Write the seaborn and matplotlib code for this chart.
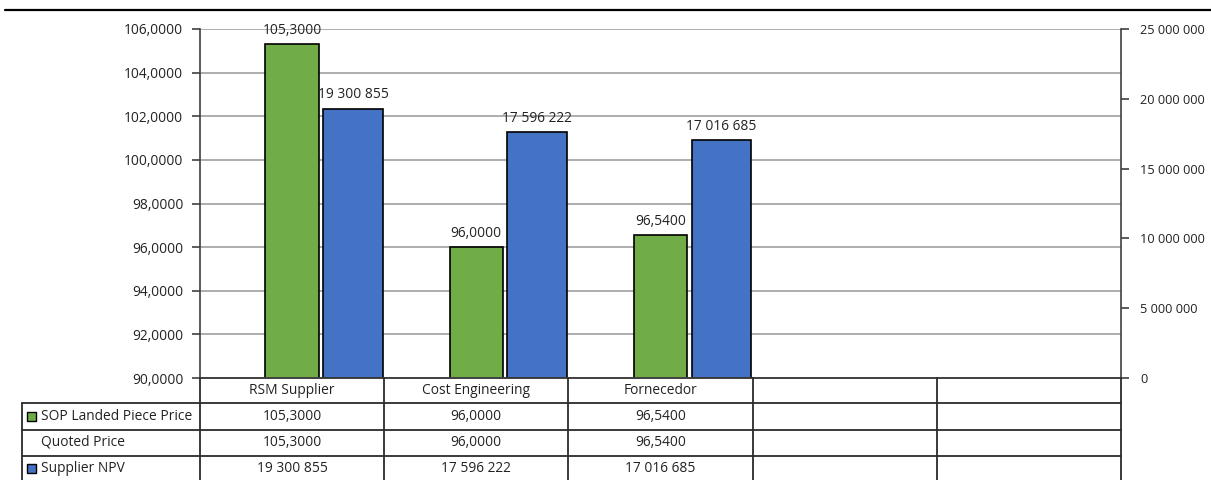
import numpy as np
import pandas as pd
import matplotlib.pyplot as plt
import seaborn as sns
from matplotlib.lines import Line2D
from matplotlib.patches import Rectangle
from matplotlib.ticker import FuncFormatter

# data
categories = ["RSM Supplier", "Cost Engineering", "Fornecedor", "", ""]
sop_price = [105.30, 96.00, 96.54]
quoted_price = [105.30, 96.00, 96.54]
supplier_npv = [19300855, 17596222, 17016685]
row_labels = ["SOP Landed Piece Price", "Quoted Price", "Supplier NPV"]

GREEN = "#70AD47"
BLUE = "#4472C4"
GRID = "#A0A0A0"
DARK = "#404040"
TXT = "#222222"

sns.set_style("white")
plt.rcParams["font.family"] = ["Open Sans", "DejaVu Sans"]
plt.rcParams["font.size"] = 9.9

W, H = 1211, 480
fig = plt.figure(figsize=(W / 100, H / 100), dpi=100)


def fx(x):
    return x / W


def fy(y):
    return 1 - y / H


# plot area in pixels
L, R, T, B = 200, 1121, 29, 378
ax = fig.add_axes([fx(L), fy(B), fx(R - L), (B - T) / H])
ax2 = ax.twinx()

n = len(categories)
pos = np.arange(len(sop_price))

df_sop = pd.DataFrame({"x": pos, "y": sop_price})
df_npv = pd.DataFrame({"x": pos + 0.331, "y": supplier_npv})

sns.barplot(data=df_sop, x="x", y="y", native_scale=True, orient="x",
            width=0.29, color=GREEN, edgecolor="black", linewidth=1.2,
            errorbar=None, saturation=1, ax=ax)
sns.barplot(data=df_npv, x="x", y="y", native_scale=True, orient="x",
            width=0.325, color=BLUE, edgecolor="black", linewidth=1.2,
            errorbar=None, saturation=1, ax=ax2)

ax.set_xlim(-0.5, n - 0.5)
ax.set_ylim(90, 106)
ax.set_yticks(np.arange(90, 106.1, 2))
ax2.set_ylim(0, 25000000)
ax2.set_yticks(np.arange(0, 25000001, 5000000))

ax.yaxis.set_major_formatter(FuncFormatter(lambda v, p: f"{v:.4f}".replace(".", ",")))
ax2.yaxis.set_major_formatter(FuncFormatter(lambda v, p: f"{int(v):,}".replace(",", " ")))

ax.set_xticks([])
ax.set_xlabel("")
ax.set_ylabel("")
ax2.set_ylabel("")
ax2.set_xlabel("")

ax.grid(axis="y", color=GRID, linewidth=1.2)
ax.set_axisbelow(True)
for a in (ax, ax2):
    a.spines["top"].set_visible(False)
    for s in ("left", "right", "bottom"):
        a.spines[s].set_color(DARK)
        a.spines[s].set_linewidth(1.2)
ax.spines["right"].set_visible(False)
ax2.spines["left"].set_visible(False)
ax.tick_params(axis="y", length=6, width=1.2, color=DARK, pad=6, labelcolor=TXT)
ax2.tick_params(axis="y", length=6, width=1.2, color=DARK, pad=8, labelcolor=TXT,
                labelsize=9.2)

# data labels
for x, v in zip(pos, sop_price):
    ax.annotate(f"{v:.4f}".replace(".", ","), (x, v), xytext=(0, 10),
                textcoords="offset points", ha="center", va="center", color=TXT)
for x, v in zip(pos + 0.331, supplier_npv):
    ax2.annotate(f"{v:,}".replace(",", " "), (x, v), xytext=(0, 10),
                 textcoords="offset points", ha="center", va="center", color=TXT)

# top rule
fig.add_artist(Line2D([fx(5), fx(W)], [fy(10), fy(10)], color="black", linewidth=1.6))

# data table below the plot
col_edges = [L + i * (R - L) / n for i in range(n + 1)]
row_y = [B, 403, 429.5, 455.5, H + 30]
lw = 1.3
for y in row_y[1:4]:
    fig.add_artist(Line2D([fx(22), fx(R)], [fy(y), fy(y)], color="#2b2b2b", linewidth=lw))
for x in col_edges:
    fig.add_artist(Line2D([fx(x), fx(x)], [fy(B), fy(H)], color="#2b2b2b", linewidth=lw))
fig.add_artist(Line2D([fx(22), fx(22)], [fy(403), fy(H)], color="#2b2b2b", linewidth=lw))

for i, c in enumerate(categories):
    cx = (col_edges[i] + col_edges[i + 1]) / 2
    fig.text(fx(cx), fy((row_y[0] + row_y[1]) / 2), c, ha="center", va="center", color=TXT)

rows = [
    [f"{v:.4f}".replace(".", ",") for v in sop_price],
    [f"{v:.4f}".replace(".", ",") for v in quoted_price],
    [f"{v:,}".replace(",", " ") for v in supplier_npv],
]
keys = [GREEN, None, BLUE]
row_centers = [416, 442.5, 468]
for r, (lab, vals, key) in enumerate(zip(row_labels, rows, keys)):
    cy = row_centers[r]
    fig.text(fx(41), fy(cy), lab, ha="left", va="center", color=TXT)
    if key:
        fig.add_artist(Rectangle((fx(27), fy(cy + 4.5)), fx(9), 9 / H,
                                 facecolor=key, edgecolor="black", linewidth=1))
    for i, v in enumerate(vals):
        cx = (col_edges[i] + col_edges[i + 1]) / 2
        fig.text(fx(cx), fy(cy), v, ha="center", va="center", color=TXT)

fig.savefig("out.png", dpi=100)
